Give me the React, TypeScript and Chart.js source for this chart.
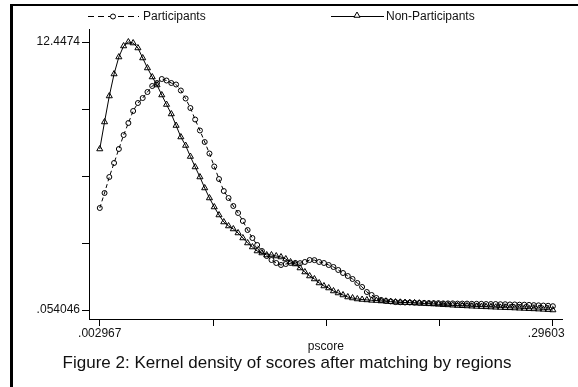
import React, { useEffect, useRef } from "react";
import { Chart, registerables } from "chart.js";

Chart.register(...registerables);

// Evaluation grid of the kernel density (pscore)
const pscore = [
  0.002967, 0.006052, 0.009137, 0.012222, 0.015307, 0.018392, 0.021476, 0.024561,
  0.027646, 0.030731, 0.033816, 0.036901, 0.039986, 0.043071, 0.046156, 0.049241,
  0.052326, 0.055411, 0.058495, 0.06158, 0.064665, 0.06775, 0.070835, 0.07392,
  0.077005, 0.08009, 0.083175, 0.08626, 0.089345, 0.09243, 0.095514, 0.098599,
  0.101684, 0.104769, 0.107854, 0.110939, 0.114024, 0.117109, 0.120194, 0.123279,
  0.126364, 0.129449, 0.132533, 0.135618, 0.138703, 0.141788, 0.144873, 0.147958,
  0.151043, 0.154128, 0.157213, 0.160298, 0.163383, 0.166468, 0.169552, 0.172637,
  0.175722, 0.178807, 0.181892, 0.184977, 0.188062, 0.191147, 0.194232, 0.197317,
  0.200402, 0.203487, 0.206571, 0.209656, 0.212741, 0.215826, 0.218911, 0.221996,
  0.225081, 0.228166, 0.231251, 0.234336, 0.237421, 0.240506, 0.24359, 0.246675,
  0.24976, 0.252845, 0.25593, 0.259015, 0.2621, 0.265185, 0.26827, 0.271355,
  0.27444, 0.277525, 0.280609, 0.283694, 0.286779, 0.289864, 0.292949, 0.29603,
];

const participants = [
  4.771, 5.464, 6.204, 6.852, 7.499, 8.146, 8.701, 9.256,
  9.626, 9.857, 10.135, 10.412, 10.551, 10.736, 10.667, 10.551,
  10.482, 10.204, 9.834, 9.395, 8.863, 8.355, 7.823, 7.291,
  6.69, 6.112, 5.557, 5.233, 4.863, 4.54, 4.17, 3.753,
  3.383, 3.06, 2.782, 2.551, 2.366, 2.227, 2.135, 2.181,
  2.227, 2.23, 2.22, 2.274, 2.366, 2.36, 2.274, 2.227,
  2.135, 2.042, 1.904, 1.765, 1.626, 1.488, 1.303, 1.118,
  0.886, 0.748, 0.609, 0.516, 0.47, 0.45, 0.42, 0.41,
  0.4, 0.4, 0.39, 0.38, 0.38, 0.37, 0.37, 0.37,
  0.36, 0.36, 0.36, 0.35, 0.35, 0.35, 0.34, 0.34,
  0.34, 0.33, 0.33, 0.33, 0.32, 0.32, 0.31, 0.31,
  0.3, 0.3, 0.29, 0.28, 0.27, 0.26, 0.25, 0.23,
];

const nonParticipants = [
  7.499, 8.748, 9.95, 10.967, 11.753, 12.262, 12.4474, 12.4,
  12.17, 11.707, 11.245, 10.829, 10.459, 9.996, 9.557, 9.118,
  8.586, 8.054, 7.661, 7.152, 6.667, 6.204, 5.696, 5.233,
  4.817, 4.447, 4.123, 3.938, 3.8, 3.615, 3.383, 3.152,
  2.967, 2.782, 2.69, 2.597, 2.6, 2.551, 2.505, 2.412,
  2.274, 2.181, 1.996, 1.811, 1.626, 1.488, 1.303, 1.164,
  1.071, 0.933, 0.84, 0.748, 0.655, 0.609, 0.563, 0.54,
  0.52, 0.5, 0.49, 0.47, 0.46, 0.44, 0.42, 0.41,
  0.4, 0.39, 0.38, 0.37, 0.355, 0.34, 0.33, 0.315,
  0.3, 0.29, 0.275, 0.26, 0.25, 0.24, 0.23, 0.22,
  0.21, 0.2, 0.19, 0.18, 0.17, 0.16, 0.155, 0.145,
  0.135, 0.125, 0.115, 0.105, 0.095, 0.083, 0.07, 0.054046,
];

const yTickValues = [0.054046, 3.152386, 6.250726, 9.349066, 12.4474];
const yTickLabels = [".054046", "", "", "", "12.4474"];
const xTickValues = [0.002967, 0.0762328, 0.1494985, 0.2227643, 0.29603];
const xTickLabels = [".002967", "", "", "", ".29603    "];

const seriesNames = ["Participants", "Non-Participants"];
const xTitle = "pscore";
const caption = "Figure 2: Kernel density of scores after matching by regions";

const FONT = '"Liberation Sans", Arial, Helvetica, sans-serif';

const decorPlugin = {
  id: "decor",
  beforeDraw(chart: any) {
    const ctx = chart.ctx;
    ctx.save();
    ctx.fillStyle = "#fff";
    ctx.fillRect(0, 0, chart.width, chart.height);
    ctx.restore();
  },
  afterDraw(chart: any) {
    const ctx = chart.ctx;
    ctx.save();
    // frame
    ctx.fillStyle = "#000";
    ctx.fillRect(10, 4, 3, chart.height - 4);
    ctx.fillRect(10, 4, chart.width - 10, 2);

    // legend
    const ly = 16.5;
    ctx.strokeStyle = "#000";
    ctx.lineWidth = 1;
    ctx.setLineDash([6, 4]);
    ctx.beginPath();
    ctx.moveTo(88, ly);
    ctx.lineTo(139, ly);
    ctx.stroke();
    ctx.setLineDash([]);
    ctx.fillStyle = "#fff";
    ctx.beginPath();
    ctx.arc(113, ly, 2.5, 0, Math.PI * 2);
    ctx.fill();
    ctx.stroke();

    ctx.beginPath();
    ctx.moveTo(331, ly);
    ctx.lineTo(384, ly);
    ctx.stroke();
    const r = 3.5;
    const tx = 357;
    const tyc = ly - 1;
    ctx.beginPath();
    ctx.moveTo(tx, tyc - r);
    ctx.lineTo(tx + r * Math.sin((2 * Math.PI) / 3), tyc - r * Math.cos((2 * Math.PI) / 3));
    ctx.lineTo(tx + r * Math.sin((4 * Math.PI) / 3), tyc - r * Math.cos((4 * Math.PI) / 3));
    ctx.closePath();
    ctx.fill();
    ctx.stroke();

    ctx.fillStyle = "#111";
    ctx.font = `12px ${FONT}`;
    ctx.textAlign = "left";
    ctx.textBaseline = "middle";
    ctx.fillText(seriesNames[0], 143, ly);
    ctx.fillText(seriesNames[1], 386, ly);

    // caption
    ctx.font = `17px ${FONT}`;
    ctx.textAlign = "center";
    ctx.fillText(caption, 287, 363);
    ctx.restore();
  },
};

export default function App() {
  const canvasRef = useRef<HTMLCanvasElement | null>(null);

  useEffect(() => {
    if (!canvasRef.current) return;
    Chart.defaults.font.family = FONT;
    Chart.defaults.color = "#111";
    const chart = new Chart(canvasRef.current, {
      type: "line",
      data: {
        datasets: [
          {
            label: seriesNames[0],
            data: pscore.map((x, i) => ({ x, y: participants[i] })),
            borderColor: "#000",
            borderWidth: 1,
            borderDash: [4, 3],
            pointStyle: "circle",
            pointRadius: 2.5,
            pointBorderWidth: 1,
            pointBorderColor: "#000",
            pointBackgroundColor: "rgba(0,0,0,0)",
            tension: 0,
          },
          {
            label: seriesNames[1],
            data: pscore.map((x, i) => ({ x, y: nonParticipants[i] })),
            borderColor: "#000",
            borderWidth: 1,
            pointStyle: "triangle",
            pointRadius: 3.5,
            pointBorderWidth: 1,
            pointBorderColor: "#000",
            pointBackgroundColor: "rgba(0,0,0,0)",
            tension: 0,
          },
        ],
      },
      options: {
        animation: false,
        responsive: false,
        devicePixelRatio: 1,
        layout: { padding: { left: 0, top: 29, right: 5, bottom: 0 }, autoPadding: false } as any,
        plugins: {
          legend: { display: false },
          tooltip: { enabled: false },
          title: { display: false },
        },
        scales: {
          x: {
            type: "linear",
            min: -0.003996,
            max: 0.30236,
            afterBuildTicks: (s: any) => {
              s.ticks = xTickValues.map((v) => ({ value: v }));
            },
            afterFit: (s: any) => {
              s.height = 68;
            },
            ticks: {
              autoSkip: false,
              maxRotation: 0,
              padding: 0,
              font: { size: 12 },
              color: "#111",
              callback: (_v: any, i: number) => xTickLabels[i],
            },
            grid: {
              display: true,
              drawOnChartArea: false,
              drawTicks: true,
              tickLength: 7,
              color: "#000",
              lineWidth: 1,
            },
            border: { display: true, color: "#000", width: 1 },
            title: {
              display: true,
              text: xTitle,
              font: { size: 12 },
              color: "#111",
              padding: { top: 0, bottom: 33 },
            },
          },
          y: {
            type: "linear",
            min: -0.3621,
            max: 13.0486,
            afterBuildTicks: (s: any) => {
              s.ticks = yTickValues.map((v) => ({ value: v }));
            },
            afterFit: (s: any) => {
              s.width = 89;
            },
            ticks: {
              autoSkip: false,
              padding: 2,
              font: { size: 12 },
              color: "#111",
              callback: (_v: any, i: number) => yTickLabels[i],
            },
            grid: {
              display: true,
              drawOnChartArea: false,
              drawTicks: true,
              tickLength: 7,
              color: "#000",
              lineWidth: 1,
            },
            border: { display: true, color: "#000", width: 1 },
          },
        },
      },
      plugins: [decorPlugin],
    });
    return () => chart.destroy();
  }, []);

  return (
    <div style={{ position: "absolute", left: 0, top: 0, width: 578, height: 387 }}>
      <canvas ref={canvasRef} width={578} height={387} style={{ display: "block", width: 578, height: 387 }} />
    </div>
  );
}
